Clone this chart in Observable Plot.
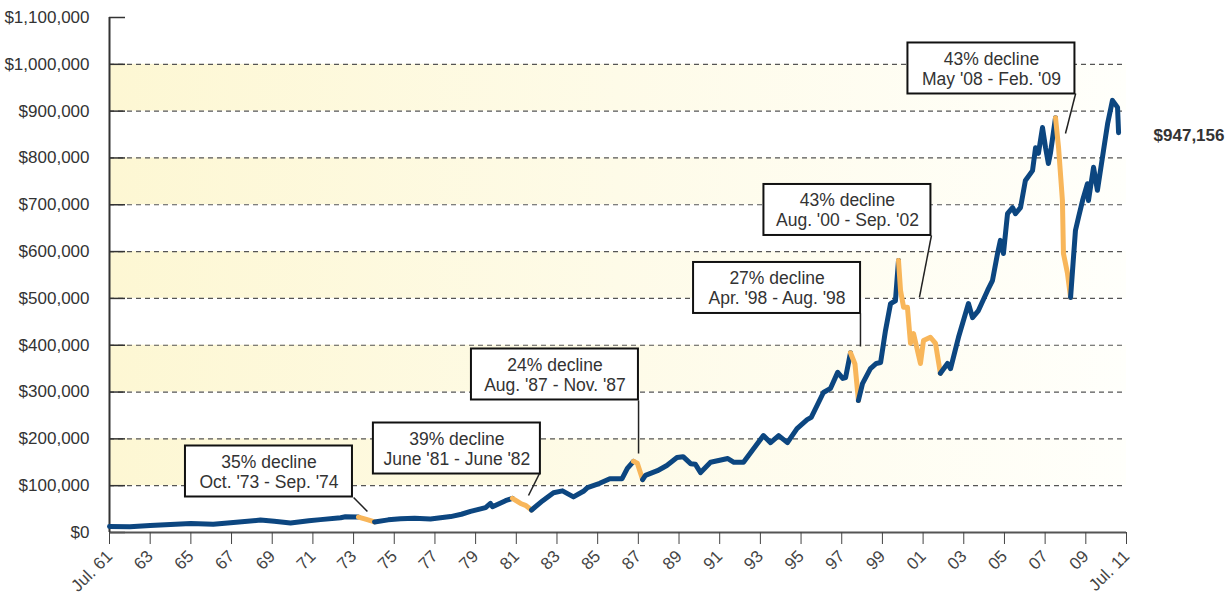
<!DOCTYPE html>
<html>
<head>
<meta charset="utf-8">
<script src="https://cdn.jsdelivr.net/npm/d3@7"></script>
<script src="https://cdn.jsdelivr.net/npm/@observablehq/plot@0.6"></script>
<style>
  html, body { margin: 0; padding: 0; background: #fff; }
  #chart { width: 1230px; height: 598px; }
</style>
</head>
<body>
<div id="chart"></div>
<script>
// ---- Data ----
const years = [
  1961.5, 1962.5, 1963.5, 1964.5, 1965.5, 1966.6, 1967.45, 1968.92, 1969.6, 1970.4,
  1971.3, 1971.87, 1972.86, 1973.1, 1973.74, 1974.13, 1974.53, 1975.2, 1975.81, 1976.5,
  1977.28, 1978.27, 1978.8, 1979.25, 1979.99, 1980.23, 1980.33, 1980.97, 1981.31, 1981.71,
  1981.95, 1982.25, 1982.8, 1983.33, 1983.77, 1984.31, 1984.8, 1985.0, 1985.6, 1986.1,
  1986.7, 1986.96, 1987.26, 1987.45, 1987.71, 1987.85, 1988.44, 1988.9, 1989.4, 1989.7,
  1990.07, 1990.3, 1990.56, 1991.05, 1991.9, 1992.2, 1992.67, 1993.1, 1993.65, 1994.0,
  1994.4, 1994.83, 1995.3, 1995.8, 1996.0, 1996.6, 1996.95, 1997.3, 1997.55, 1997.69, 1997.93,
  1998.15, 1998.32, 1998.52, 1998.91, 1999.2, 1999.41, 1999.65, 1999.9, 2000.14, 2000.29,
  2000.39, 2000.54, 2000.73, 2000.88, 2001.03, 2001.37, 2001.52, 2001.86, 2002.11, 2002.35,
  2002.7, 2002.85, 2003.24, 2003.73, 2003.93, 2004.22, 2004.67, 2004.91, 2005.16, 2005.3,
  2005.45, 2005.65, 2005.9, 2006.04, 2006.29, 2006.53, 2006.88, 2007.03, 2007.17, 2007.37,
  2007.52, 2007.66, 2007.76, 2008.01, 2008.16, 2008.35, 2008.4, 2008.6, 2008.75, 2008.99,
  2009.14, 2009.34, 2009.58, 2009.63, 2009.88, 2010.07, 2010.37, 2010.57, 2010.81, 2011.06,
  2011.11
];
const values = [
  12800, 12500, 15000, 17000, 19000, 17500, 21000, 26500, 24000, 20500,
  25000, 27500, 31500, 33500, 33000, 28000, 22500, 27000, 29500, 30500,
  29000, 34000, 39000, 45000, 53000, 62000, 55000, 68000, 73000, 62000,
  58000, 48000, 68000, 85000, 89000, 76000, 88000, 96000, 105000, 115000,
  115000, 137000, 152000, 148000, 113000, 122000, 132000, 143000, 160000, 162000,
  147000, 146000, 128000, 150000, 158000, 150000, 150000, 175000, 207000, 192000,
  207000, 192000, 222000, 241000, 246000, 299000, 308000, 342000, 329000, 331000, 384000,
  360000, 282000, 318000, 350000, 361000, 363000, 431000, 489000, 495000, 581000,
  517000, 481000, 481000, 404000, 425000, 361000, 410000, 417000, 404000, 340000,
  361000, 350000, 417000, 489000, 459000, 474000, 517000, 538000, 596000, 624000,
  596000, 681000, 694000, 681000, 694000, 752000, 773000, 822000, 810000, 865000,
  822000, 788000, 810000, 886000, 822000, 709000, 596000, 553000, 502000, 645000,
  673000, 709000, 745000, 709000, 780000, 731000, 816000, 873000, 923000, 908000,
  854000
];

const declineStart = [1973.74, 1981.31, 1987.26, 1997.93, 2000.29, 2008.01];
const declineEnd   = [1974.53, 1982.25, 1987.71, 1998.32, 2002.35, 2008.75];
const declinePct   = ["35% decline", "39% decline", "24% decline", "27% decline", "43% decline", "43% decline"];
const declinePeriod = ["Oct. '73 - Sep. '74", "June '81 - June '82", "Aug. '87 - Nov. '87",
                       "Apr. '98 - Aug. '98", "Aug. '00 - Sep. '02", "May '08 - Feb. '09"];

// annotation box centres and leader lines (data space)
const annoYear  = [1969.34, 1978.58, 1983.40, 1994.32, 1997.78, 2004.86];
const annoValue = [130300, 179400, 337500, 522300, 688900, 991100];
const leaderFromYear  = [1973.50, 1982.64, 1987.51, 1998.42, 2001.91, 2009.00];
const leaderFromValue = [74800, 126000, 282000, 467800, 634400, 937700];
const leaderToYear    = [1974.18, 1982.10, 1987.51, 1998.42, 2001.32, 2008.50];
const leaderToValue   = [44900, 79000, 168700, 397300, 502000, 852300];

const finalLabel = "$947,156";

const yTicks = [0, 100000, 200000, 300000, 400000, 500000, 600000, 700000, 800000, 900000, 1000000, 1100000];
const gridValues = [100000, 200000, 300000, 400000, 500000, 600000, 700000, 800000, 900000, 1000000];
const bandLows  = [100000, 300000, 500000, 700000, 900000];
const bandHighs = [200000, 400000, 600000, 800000, 1000000];

const xTickYears = [1961.5, 1963.5, 1965.5, 1967.5, 1969.5, 1971.5, 1973.5, 1975.5, 1977.5, 1979.5,
  1981.5, 1983.5, 1985.5, 1987.5, 1989.5, 1991.5, 1993.5, 1995.5, 1997.5, 1999.5,
  2001.5, 2003.5, 2005.5, 2007.5, 2009.5, 2011.5];
const xTickLabels = ["Jul. 61", "63", "65", "67", "69", "71", "73", "75", "77", "79",
  "81", "83", "85", "87", "89", "91", "93", "95", "97", "99",
  "01", "03", "05", "07", "09", "Jul. 11"];

// ---- Layout / style ----
const W = 1230, H = 598;
const mL = 109, mR = 104, mT = 17, mB = 66;
const xDomain = [1961.5, 2011.5];
const yDomain = [0, 1100000];
const BLUE = "#0c4680", ORANGE = "#f8b65a", INK = "#333333";
const FONT = "'Liberation Sans', Arial, sans-serif";

// ---- build line segments (blue / orange) ----
function inDecline(y) {
  for (let k = 0; k < declineStart.length; k++) if (y >= declineStart[k] && y <= declineEnd[k]) return k;
  return -1;
}
const lineRows = [];
let seg = 0, prevType = null;
for (let i = 0; i < years.length - 1; i++) {
  const a = inDecline(years[i]), b = inDecline(years[i + 1]);
  const type = (a >= 0 && a === b) ? "decline" : "growth";
  if (type !== prevType) {
    seg++;
    lineRows.push({year: years[i], value: values[i], seg, type});
    prevType = type;
  }
  lineRows.push({year: years[i + 1], value: values[i + 1], seg, type});
}

// annotation boxes: fixed pixel size converted to data units
const pxPerYear = (W - mL - mR) / (xDomain[1] - xDomain[0]);
const pxPerVal = (H - mT - mB) / (yDomain[1] - yDomain[0]);
const BOX_W = 167, BOX_H = 51;
const annos = annoYear.map((y, i) => ({
  x1: y - BOX_W / 2 / pxPerYear, x2: y + BOX_W / 2 / pxPerYear,
  y1: annoValue[i] - BOX_H / 2 / pxPerVal, y2: annoValue[i] + BOX_H / 2 / pxPerVal,
  cx: y, cy: annoValue[i], text: declinePct[i] + "\n" + declinePeriod[i],
  lx1: leaderFromYear[i], ly1: leaderFromValue[i], lx2: leaderToYear[i], ly2: leaderToValue[i]
}));
const bands = bandLows.map((lo, i) => ({lo, hi: bandHighs[i]}));
const last = {year: years[years.length - 1], value: values[values.length - 1], text: finalLabel};

const chart = Plot.plot({
  width: W, height: H,
  marginLeft: mL, marginRight: mR, marginTop: mT, marginBottom: mB,
  style: {fontFamily: FONT, background: "#fff", color: INK, overflow: "visible"},
  x: {domain: xDomain},
  y: {domain: yDomain},
  marks: [
    Plot.rect(bands, {x1: xDomain[0], x2: xDomain[1], y1: "lo", y2: "hi", fill: "url(#bandGrad)"}),
    Plot.ruleY(gridValues, {stroke: "#555", strokeWidth: 1.2, strokeDasharray: "5,4"}),
    Plot.tickY(yTicks, {stroke: "#333", strokeWidth: 1.5, insetRight: (W - mL - mR) - 16}),
    Plot.ruleY([0], {stroke: "#555", strokeWidth: 2}),
    Plot.ruleX([xDomain[0]], {y1: yDomain[0], y2: yDomain[1], stroke: "#333", strokeWidth: 2}),
    Plot.axisY({ticks: yTicks, tickSize: 0, tickPadding: 20, fontSize: 17,
      tickFormat: d => "$" + d3.format(",")(d), color: INK}),
    Plot.axisX({ticks: xTickYears, tickSize: 12, tickPadding: 9, tickRotate: -45, fontSize: 17,
      tickFormat: d => xTickLabels[xTickYears.indexOf(d)], color: "#444"}),
    Plot.line(lineRows, {x: "year", y: "value", z: "seg",
      stroke: d => d.type === "decline" ? ORANGE : BLUE,
      strokeWidth: 5, strokeLinejoin: "round", strokeLinecap: "round", curve: "linear"}),
    Plot.link(annos, {x1: "lx1", y1: "ly1", x2: "lx2", y2: "ly2", stroke: "#222", strokeWidth: 1.5}),
    Plot.rect(annos, {x1: "x1", x2: "x2", y1: "y1", y2: "y2", fill: "#fff", stroke: "#111", strokeWidth: 2}),
    Plot.text(annos, {x: "cx", y: "cy", text: "text", fontSize: 17.5, lineHeight: 1.15, fill: INK, textAnchor: "middle"}),
    Plot.text([last], {x: "year", y: "value", text: "text", dx: 35, dy: 3, textAnchor: "start",
      fontSize: 17, fontWeight: "bold", fill: INK})
  ]
});

// horizontal gradient for the alternating bands
const defs = d3.select(chart).insert("defs", ":first-child");
const grad = defs.append("linearGradient").attr("id", "bandGrad")
  .attr("x1", "0").attr("x2", "1").attr("y1", "0").attr("y2", "0");
grad.append("stop").attr("offset", "0").attr("stop-color", "#fdf7d3");
grad.append("stop").attr("offset", "0.5").attr("stop-color", "#fefbe8");
grad.append("stop").attr("offset", "1").attr("stop-color", "#fffffb");

document.getElementById("chart").appendChild(chart);
</script>
</body>
</html>
